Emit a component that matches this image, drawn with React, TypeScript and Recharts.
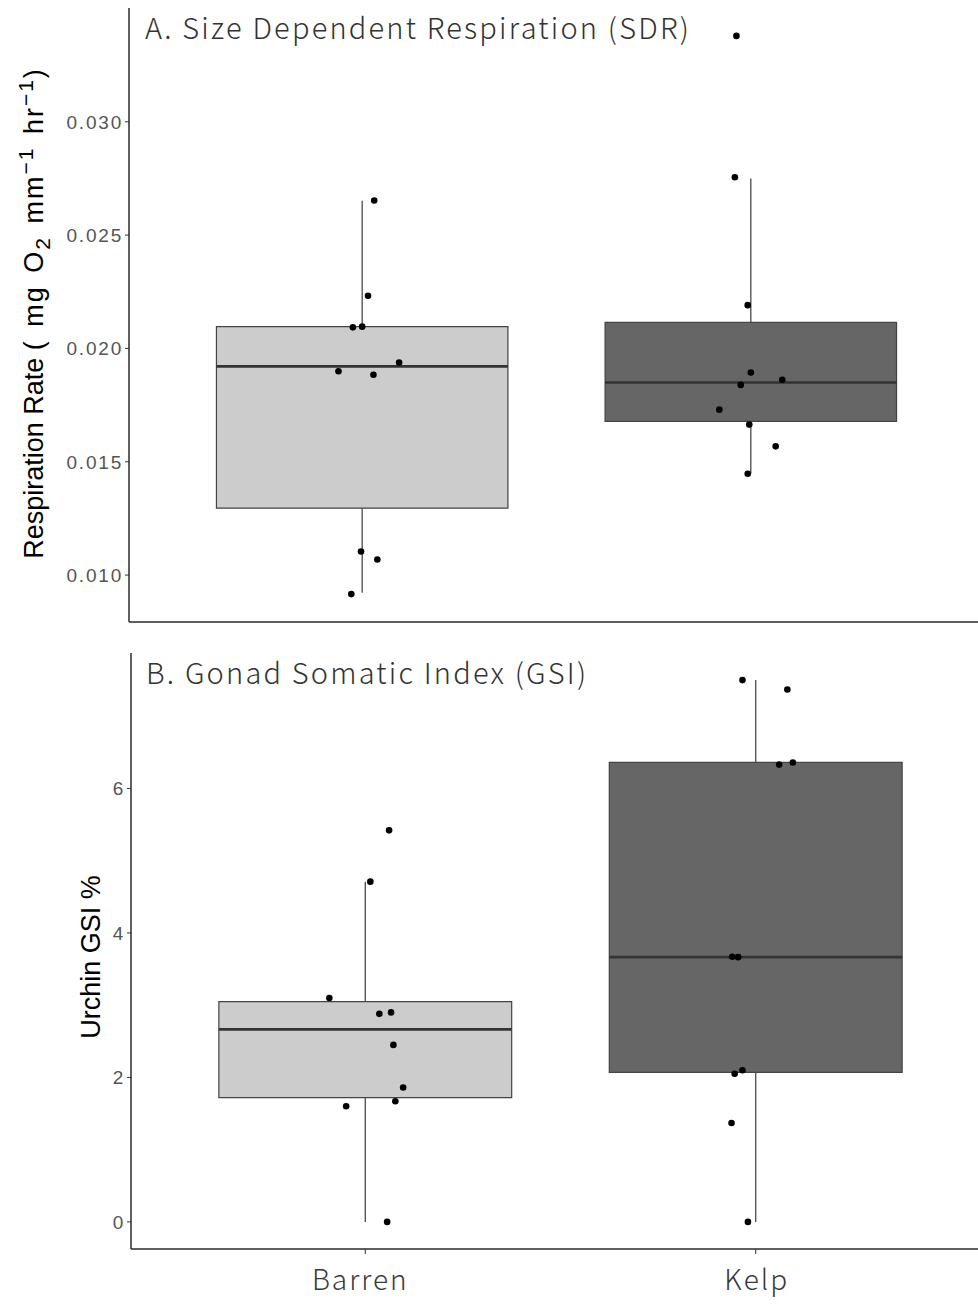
import React from 'react';
import { ComposedChart, XAxis, YAxis, Scatter, ReferenceArea, ReferenceLine } from 'recharts';

const categories = ['Barren', 'Kelp'];

// box stats: [lower whisker, Q1, median, Q3, upper whisker]
const sdrBarrenBox = [0.00922, 0.01295, 0.01921, 0.02096, 0.02652];
const sdrKelpBox = [0.01447, 0.01678, 0.0185, 0.02115, 0.0275];
const gsiBarrenBox = [0, 1.72, 2.665, 3.05, 4.71];
const gsiKelpBox = [0, 2.07, 3.665, 6.36, 7.5];

// jittered points
const sdrBarren = [0.02653, 0.02232, 0.02093, 0.02096, 0.01899, 0.01884, 0.01938, 0.01104, 0.01069, 0.00916];
const sdrBarrenJitter = [0.031, 0.015, -0.024, 0, -0.061, 0.029, 0.095, -0.003, 0.039, -0.028];
const sdrKelp = [0.03379, 0.02755, 0.02191, 0.01894, 0.01862, 0.01839, 0.0173, 0.01664, 0.01568, 0.01447];
const sdrKelpJitter = [-0.037, -0.041, -0.008, 0, 0.081, -0.026, -0.081, -0.004, 0.064, -0.008];
const gsiBarren = [5.42, 4.71, 3.1, 2.88, 2.9, 2.45, 1.86, 1.67, 1.6, 0];
const gsiBarrenJitter = [0.061, 0.013, -0.092, 0.036, 0.066, 0.072, 0.097, 0.077, -0.049, 0.056];
const gsiKelp = [7.5, 7.37, 6.33, 6.36, 3.67, 3.665, 2.05, 2.1, 1.37, 0];
const gsiKelpJitter = [-0.034, 0.081, 0.06, 0.095, -0.06, -0.045, -0.054, -0.034, -0.062, -0.02];

const sdrTicks = [0.01, 0.015, 0.02, 0.025, 0.03];
const gsiTicks = [0, 2, 4, 6];

const boxFills = ['#cccccc', '#666666'];
const titleFont = '"Noto Sans CJK JP", "Noto Sans", sans-serif';
const tickFont = '"Liberation Sans", Arial, sans-serif';

const toPoints = (vals: number[], jit: number[], pos: number) =>
  vals.map((v, i) => ({ x: pos + jit[i], y: v }));

const Dot = (props: any) => <circle cx={props.cx} cy={props.cy} r={3.3} fill="#000" />;

const CatTick = (props: any) => {
  const { x, y, payload } = props;
  const label = categories[payload.value - 1];
  return (
    <text x={x + (payload.value === 1 ? -5 : 1)} y={y + 34} textAnchor="middle"
      fontFamily={titleFont} fontWeight={300} fontSize={28} fill="#3a3a3a" letterSpacing={2}>
      {label}
    </text>
  );
};

const Panel = ({ width, height, margin, yWidth, domain, ticks, fmt, boxes, points, showCats }: any) => (
  <ComposedChart width={width} height={height} margin={margin}>
    <XAxis
      dataKey="x"
      type="number"
      domain={[0.4, 2.6]}
      ticks={[1, 2]}
      allowDataOverflow
      tick={showCats ? <CatTick /> : false}
      axisLine={{ stroke: '#2a2a2a', strokeWidth: 1.5 }}
      tickLine={{ stroke: '#333' }}
      tickSize={5}
      height={showCats ? 57 : 18}
    />
    <YAxis
      dataKey="y"
      type="number"
      domain={domain}
      ticks={ticks}
      allowDataOverflow
      width={yWidth}
      tickFormatter={fmt}
      axisLine={{ stroke: '#2a2a2a', strokeWidth: 1.5 }}
      tickLine={{ stroke: '#333' }}
      tickSize={4}
      tick={{ fontFamily: tickFont, fontSize: 19, fill: '#555', letterSpacing: 1.8 }}
    />
    {boxes.map((b: number[], i: number) => {
      const x = i + 1;
      return (
        <ReferenceArea key={'box' + i} x1={x - 0.375} x2={x + 0.375} y1={b[1]} y2={b[3]}
          fill={boxFills[i]} fillOpacity={1} stroke="#444" strokeWidth={1.2} />
      );
    })}
    {boxes.map((b: number[], i: number) => {
      const x = i + 1;
      return [
        <ReferenceLine key={'lw' + i} segment={[{ x, y: b[0] }, { x, y: b[1] }]} stroke="#4a4a4a" strokeWidth={1.3} />,
        <ReferenceLine key={'uw' + i} segment={[{ x, y: b[3] }, { x, y: b[4] }]} stroke="#4a4a4a" strokeWidth={1.3} />,
        <ReferenceLine key={'md' + i} segment={[{ x: x - 0.375, y: b[2] }, { x: x + 0.375, y: b[2] }]} stroke="#333" strokeWidth={2.6} />,
      ];
    })}
    {points.map((p: any[], i: number) => (
      <Scatter key={'pts' + i} data={p} dataKey="y" shape={Dot} isAnimationActive={false} />
    ))}
  </ComposedChart>
);

const abs = (left: number, top: number): React.CSSProperties => ({ position: 'absolute', left, top });

export default function App() {
  const sdrPoints = [toPoints(sdrBarren, sdrBarrenJitter, 1), toPoints(sdrKelp, sdrKelpJitter, 2)];
  const gsiPoints = [toPoints(gsiBarren, gsiBarrenJitter, 1), toPoints(gsiKelp, gsiKelpJitter, 2)];
  const rotLabel: React.CSSProperties = {
    position: 'absolute',
    transform: 'translate(-50%, -50%) rotate(-90deg)',
    whiteSpace: 'nowrap',
    fontFamily: tickFont,
    fontSize: 27,
    color: '#000',
    lineHeight: 1,
  };
  const title: React.CSSProperties = {
    position: 'absolute',
    fontFamily: titleFont,
    fontSize: 29,
    fontWeight: 300,
    color: '#333',
    whiteSpace: 'nowrap',
    lineHeight: 1,
    letterSpacing: 2.2,
  };
  const small = { fontSize: 21 };
  return (
    <div style={{ position: 'absolute', left: 0, top: 0, width: 978, height: 1306, overflow: 'hidden', background: '#fff' }}>
      <div style={abs(0, 0)}>
        <Panel
          width={990}
          height={640}
          margin={{ top: 8, right: 6, left: 0, bottom: 0 }}
          yWidth={129}
          domain={[0.00793, 0.03502]}
          ticks={sdrTicks}
          fmt={(v: number) => v.toFixed(3)}
          boxes={[sdrBarrenBox, sdrKelpBox]}
          points={sdrPoints}
          showCats={false}
        />
      </div>
      <div style={abs(0, 640)}>
        <Panel
          width={996}
          height={666}
          margin={{ top: 13, right: 6, left: 0, bottom: 0 }}
          yWidth={131}
          domain={[-0.375, 7.875]}
          ticks={gsiTicks}
          fmt={(v: number) => String(v)}
          boxes={[gsiBarrenBox, gsiKelpBox]}
          points={gsiPoints}
          showCats
        />
      </div>
      <div style={{ ...title, left: 145, top: 12 }}>A. Size Dependent Respiration (SDR)</div>
      <div style={{ ...title, left: 146, top: 657 }}>B. Gonad Somatic Index (GSI)</div>
      <div style={{ ...rotLabel, left: 34, top: 313 }}>
        Respiration Rate <span style={{ letterSpacing: 2, wordSpacing: 3 }}>( mg O<sub style={small}>2</sub> mm<sup style={small}>−1</sup> hr<sup style={small}>−1</sup>)</span>
      </div>
      <div style={{ ...rotLabel, left: 91, top: 957 }}>Urchin GSI %</div>
    </div>
  );
}
